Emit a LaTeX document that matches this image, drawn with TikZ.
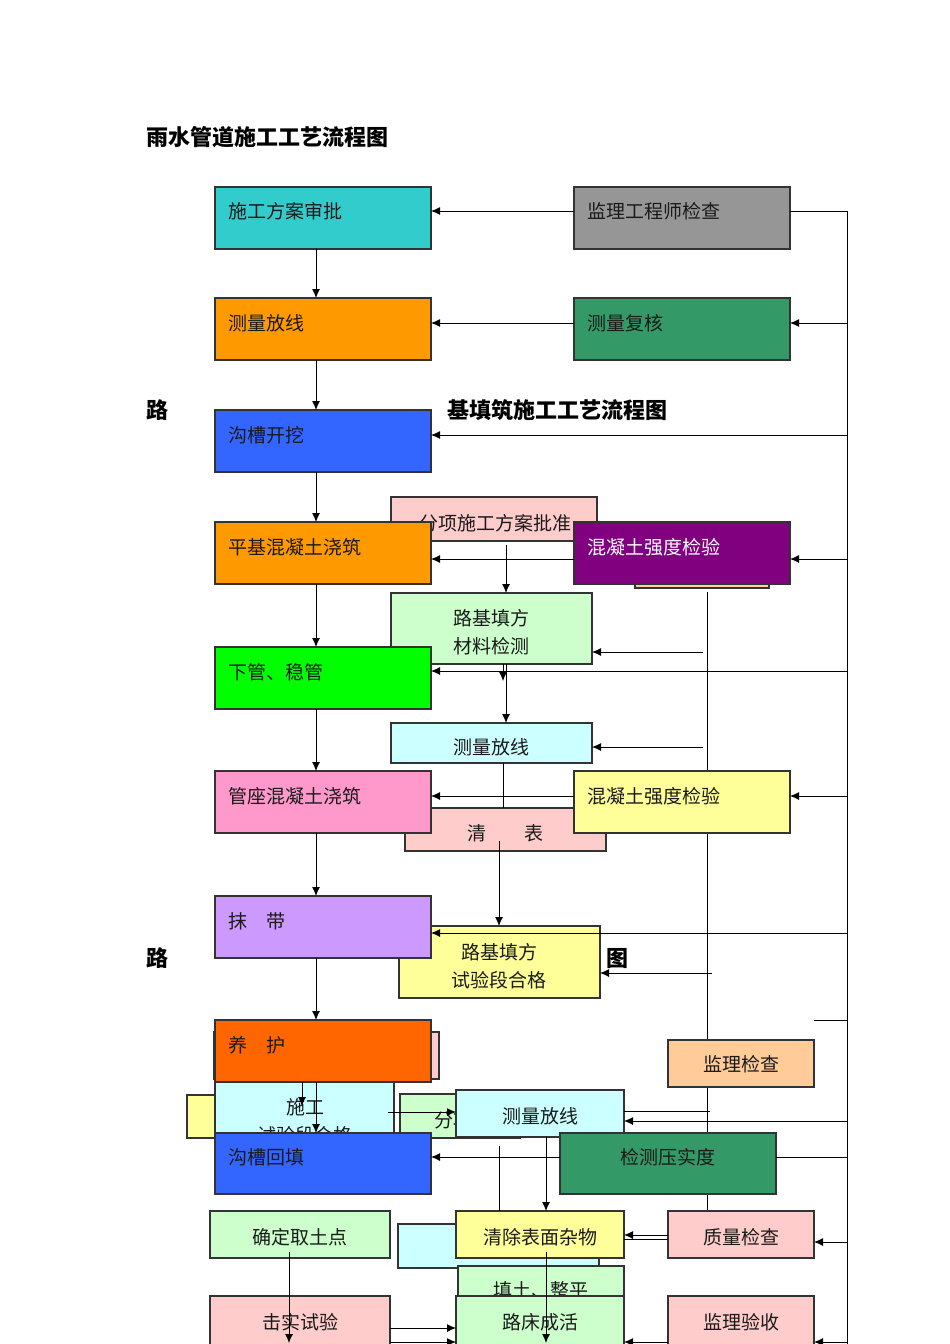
\documentclass[tikz,border=0pt]{standalone}
\usepackage{fontspec}
\newfontfamily\cjk{Noto Sans CJK SC}
\usetikzlibrary{fit,arrows.meta}
\definecolor{cCyan}{HTML}{33CCCC}
\definecolor{cGray}{HTML}{969696}
\definecolor{cOrange}{HTML}{FF9900}
\definecolor{cSea}{HTML}{339966}
\definecolor{cBlue}{HTML}{3366FF}
\definecolor{cPurple}{HTML}{800080}
\definecolor{cGreen}{HTML}{00FF00}
\definecolor{cPink}{HTML}{FF99CC}
\definecolor{cYellowL}{HTML}{FFFF99}
\definecolor{cLav}{HTML}{CC99FF}
\definecolor{cRed}{HTML}{FF6600}
\definecolor{cPinkL}{HTML}{FFCCCC}
\definecolor{cGreenL}{HTML}{CCFFCC}
\definecolor{cCyanL}{HTML}{CCFFFF}
\definecolor{cPeach}{HTML}{FFCC99}
\definecolor{cBorder}{HTML}{333333}
\definecolor{cText}{HTML}{1A1A1A}
\begin{document}
\begin{tikzpicture}[x=1pt,y=-1pt,
  box/.style={draw=cBorder,line width=1.1pt,inner sep=0pt,outer sep=0pt},
  lbl/.style={font=\cjk\fontsize{19}{28}\selectfont,text=cText,inner sep=0pt,align=center},
  ttl/.style={font=\cjk\bfseries\fontsize{22}{24}\selectfont,text=black,inner sep=0pt,anchor=west},
  ln/.style={line width=0.9pt,draw=black},
  arr/.style={ln,-{Latex[length=9pt,width=8pt]}}]
\useasboundingbox (0,0) rectangle (950,1344);
\fill[white] (0,0) rectangle (950,1344);

% hidden vertical line (behind boxes)
\coordinate (v1) at (707,592);
\coordinate (v2) at (707,1212);
\draw[ln] (v1) -- (v2);

% titles
\node[ttl] (t1) at (146,137) {雨水管道施工工艺流程图};
\node[ttl] (t2) at (146,410) {路};
\node[ttl] (t3) at (447,410) {基填筑施工工艺流程图};
\node[ttl] (t4) at (146,958) {路};
\node[ttl] (t5) at (606,959) {图};

% hidden (background) boxes
\node[box,fill=cPinkL,fit={(391,497) (597,541)}] (h1) {};
\node[lbl] (lh1) at (495,523) {分项施工方案批准};
\node[box,fill=cGreenL,fit={(391,593) (592,664)}] (h2) {};
\node[lbl] (lh2) at (491,632) {路基填方\\材料检测};
\node[box,fill=cCyanL,fit={(391,723) (592,763)}] (h3) {};
\node[lbl] (lh3) at (491,747) {测量放线};
\node[box,fill=cPinkL,fit={(405,808) (606,851)}] (h4) {};
\node[lbl] (lh4) at (505,833) {清　　表};
\node[box,fill=cYellowL,fit={(399,926) (600,998)}] (h5) {};
\node[lbl] (lh5) at (499,966) {路基填方\\试验段合格};
\node[box,fill=cPeach,fit={(635,540) (769,588)}] (h6) {};
\node[box,fill=cPinkL,fit={(214,1032) (439,1079)}] (h7) {};
\node[box,fill=cYellowL,fit={(187,1095) (330,1138)}] (h8) {};
\node[box,fill=cCyanL,fit={(215,1082) (394,1162)}] (h9) {};
\node[lbl] (lh9) at (305,1121) {施工\\试验段合格};
\node[box,fill=cGreenL,fit={(400,1094) (520,1138)}] (h10) {};
\node[lbl,anchor=west] (lh10) at (434,1120) {分项};
\node[box,fill=cCyanL,fit={(398,1224) (599,1268)}] (h11) {};
\node[box,fill=cGreenL,fit={(458,1266) (624,1310)}] (h12) {};
\node[lbl] (lh12) at (541,1290) {填土、整平};

% main left column
\node[box,fill=cCyan,fit={(215,187) (431,249)}] (n1) {};
\node[lbl,anchor=west] (ln1) at (228,211) {施工方案审批};
\node[box,fill=cOrange,fit={(215,298) (431,360)}] (n2) {};
\node[lbl,anchor=west] (ln2) at (228,323) {测量放线};
\node[box,fill=cBlue,fit={(215,410) (431,472)}] (n3) {};
\node[lbl,anchor=west] (ln3) at (228,435) {沟槽开挖};
\node[box,fill=cOrange,fit={(215,522) (431,584)}] (n4) {};
\node[lbl,anchor=west] (ln4) at (228,547) {平基混凝土浇筑};
\node[box,fill=cGreen,fit={(215,647) (431,709)}] (n5) {};
\node[lbl,anchor=west] (ln5) at (228,672) {下管、稳管};
\node[box,fill=cPink,fit={(215,771) (431,833)}] (n6) {};
\node[lbl,anchor=west] (ln6) at (228,796) {管座混凝土浇筑};
\node[box,fill=cLav,fit={(215,896) (431,958)}] (n7) {};
\node[lbl,anchor=west] (ln7) at (228,921) {抹　带};
\node[box,fill=cRed,fit={(215,1020) (431,1082)}] (n8) {};
\node[lbl,anchor=west] (ln8) at (228,1045) {养　护};
\node[box,fill=cBlue,fit={(215,1133) (431,1194)}] (n9) {};
\node[lbl,anchor=west] (ln9) at (228,1157) {沟槽回填};

% main right column
\node[box,fill=cGray,fit={(574,187) (790,249)}] (r1) {};
\node[lbl,anchor=west] (lr1) at (587,211) {监理工程师检查};
\node[box,fill=cSea,fit={(574,298) (790,360)}] (r2) {};
\node[lbl,anchor=west] (lr2) at (587,323) {测量复核};
\node[box,fill=cPurple,fit={(574,522) (790,584)}] (r3) {};
\node[lbl,anchor=west,text=white] (lr3) at (587,547) {混凝土强度检验};
\node[box,fill=cYellowL,fit={(574,771) (790,833)}] (r4) {};
\node[lbl,anchor=west] (lr4) at (587,796) {混凝土强度检验};

% lower boxes
\node[box,fill=cPeach,fit={(668,1040) (814,1087)}] (b1) {};
\node[lbl] (lb1) at (741,1064) {监理检查};
\node[box,fill=cCyanL,fit={(456,1090) (624,1137)}] (b2) {};
\node[lbl] (lb2) at (540,1116) {测量放线};
\node[box,fill=cSea,fit={(560,1133) (776,1194)}] (b3) {};
\node[lbl] (lb3) at (668,1157) {检测压实度};
\node[box,fill=cPinkL,fit={(668,1211) (814,1258)}] (b4) {};
\node[lbl] (lb4) at (741,1237) {质量检查};
\node[box,fill=cPinkL,fit={(668,1296) (814,1345)}] (b5) {};
\node[lbl] (lb5) at (741,1322) {监理验收};
\node[box,fill=cGreenL,fit={(210,1211) (390,1258)}] (b6) {};
\node[lbl] (lb6) at (300,1237) {确定取土点};
\node[box,fill=cPinkL,fit={(210,1296) (390,1345)}] (b7) {};
\node[lbl] (lb7) at (300,1322) {击实试验};
\node[box,fill=cYellowL,fit={(456,1211) (624,1258)}] (b8) {};
\node[lbl] (lb8) at (540,1237) {清除表面杂物};
\node[box,fill=cGreenL,fit={(456,1296) (624,1345)}] (b9) {};
\node[lbl] (lb9) at (540,1322) {路床成活};

% helper coordinates
\coordinate (R) at (847,211);
\coordinate (Rb) at (847,1344);
\coordinate (cx) at (316,0);
\coordinate (y211) at (0,211);
\coordinate (y323) at (0,323);
\coordinate (y435) at (0,435);
\coordinate (y559) at (0,559);
\coordinate (y671) at (0,671);
\coordinate (y796) at (0,796);
\coordinate (y933) at (0,933);
\coordinate (y1121) at (0,1121);
\coordinate (y1157) at (0,1157);
\coordinate (y1242) at (0,1242);
\coordinate (y1328) at (0,1328);
\coordinate (y1342) at (0,1342);

% right bus
\draw[ln] (R) -- (Rb);
\draw[ln] (r1.east |- y211) -- (R);

% left column arrows
\foreach \a/\b in {n1/n2,n2/n3,n3/n4,n4/n5,n5/n6,n6/n7,n7/n8,n8/n9}
  \draw[arr] (\a.south -| cx) -- (\b.north -| cx);

% right-to-left arrows
\draw[arr] (r1.west |- y211) -- (n1.east |- y211);
\draw[arr] (r2.west |- y323) -- (n2.east |- y323);
\draw[arr] (R |- y323) -- (r2.east |- y323);
\draw[arr] (R |- y435) -- (n3.east |- y435);
\draw[arr] (r3.west |- y559) -- (n4.east |- y559);
\draw[arr] (R |- y559) -- (r3.east |- y559);
\draw[arr] (R |- y671) -- (n5.east |- y671);
\draw[arr] (r4.west |- y796) -- (n6.east |- y796);
\draw[arr] (R |- y796) -- (r4.east |- y796);
\draw[arr] (R |- y933) -- (n7.east |- y933);
\coordinate (s1020) at (814,1020);
\draw[ln] (s1020) -- (R |- s1020);

% hidden-diagram connectors
\coordinate (a1) at (506,545);
\draw[arr] (a1) -- (a1 |- h2.north);
\coordinate (a2) at (503,664);
\coordinate (a2e) at (503,681);
\draw[arr] (a2) -- (a2e);
\coordinate (a3) at (506,664);
\draw[arr] (a3) -- (a3 |- h3.north);
\coordinate (a4) at (503,763);
\draw[ln] (a4) -- (a4 |- h4.north);
\coordinate (a5) at (499,841);
\draw[arr] (a5) -- (a5 |- h5.north);
\coordinate (s652) at (703,652);
\draw[arr] (s652) -- (s652 -| h2.east);
\coordinate (s747) at (703,747);
\draw[arr] (s747) -- (s747 -| h3.east);
\coordinate (s973) at (712,973);
\draw[arr] (s973) -- (s973 -| h5.east);
\coordinate (a6) at (302,1082);
\coordinate (a6e) at (302,1106);
\draw[arr] (a6) -- (a6e);
\coordinate (a7) at (388,1112);
\draw[arr] (a7) -- (a7 -| b2.west);
\coordinate (s1111) at (710,1111);
\draw[ln] (b2.east |- s1111) -- (s1111);
\draw[arr] (R |- y1121) -- (b2.east |- y1121);
\draw[ln] (b3.east |- y1157) -- (R |- y1157);
\draw[arr] (b3.west |- y1157) -- (n9.east |- y1157);
\coordinate (a8) at (499,1146);
\draw[ln] (a8) -- (a8 |- b8.north);
\coordinate (x546) at (546,0);
\draw[arr] (b2.south -| x546) -- (b8.north -| x546);
\draw[arr] (R |- y1242) -- (b4.east |- y1242);
\coordinate (y1235) at (0,1235);
\coordinate (y1239) at (0,1239);
\draw[arr] (b4.west |- y1235) -- (b8.east |- y1235);
\draw[ln] (b4.west |- y1239) -- (b8.east |- y1239);
\coordinate (a9) at (289,1252);
\coordinate (a9e) at (289,1343);
\draw[arr] (a9) -- (a9e);
\coordinate (a10) at (546,1252);
\coordinate (a10e) at (546,1343);
\draw[arr] (a10) -- (a10e);
\draw[arr] (b7.east |- y1328) -- (b9.west |- y1328);
\draw[arr] (b7.east |- y1342) -- (b9.west |- y1342);
\draw[arr] (b5.west |- y1342) -- (b9.east |- y1342);
\draw[arr] (R |- y1342) -- (b5.east |- y1342);
\end{tikzpicture}
\end{document}
